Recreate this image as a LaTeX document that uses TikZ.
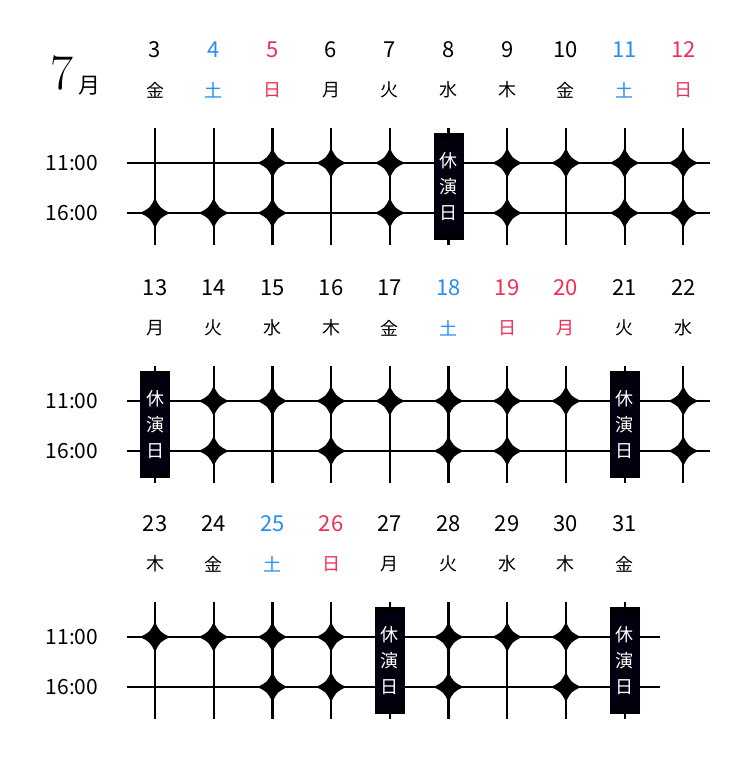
\documentclass[tikz,border=0pt]{standalone}
\usepackage{fontspec}
\newfontfamily\jp{Noto Sans CJK JP}
\begin{document}
\begin{tikzpicture}[x=1pt,y=-1pt,
  num/.style={font=\jp\fontsize{22}{22}\selectfont,inner sep=0pt},
  wd/.style={font=\jp\fontsize{18}{18}\selectfont,inner sep=0pt},
  tm/.style={font=\jp\fontsize{21}{21}\selectfont,inner sep=0pt},
  ln/.style={line width=2.2pt,black},
  rest/.style={fill=black!90!blue!60!black},
  bl/.style={text={rgb,255:red,40;green,140;blue,240}},
  rd/.style={text={rgb,255:red,240;green,45;blue,85}},
  dia/.pic={\fill (0,-15) .. controls (5,-5) .. (15,0) .. controls (5,5) .. (0,15) .. controls (-5,5) .. (-15,0) .. controls (-5,-5) .. (0,-15);}]
\useasboundingbox (0,0) rectangle (750,760);
\node[inner sep=0pt,font=\fontsize{50}{50}\selectfont] (m7) at (62,73) {7};
\node[wd,font=\jp\fontsize{22}{22}\selectfont] (mo) at (89,86) {月};
\newcommand\blk[4]{%
  \node[tm] (a#4) at (72,#1+113) {11:00};
  \node[tm] (b#4) at (72,#1+163) {16:00};
  \coordinate (la#4) at (127,#1+113); \coordinate (ra#4) at (#3,#1+113);
  \coordinate (lb#4) at (127,#1+163); \coordinate (rb#4) at (#3,#1+163);
  \draw[ln] (la#4) -- (ra#4); \draw[ln] (lb#4) -- (rb#4);
  \foreach \c/\n/\w/\s/\p/\q in {#2}{
    \pgfmathsetmacro\xx{155+58.7*\c}
    \node[num,\s] (n\n) at (\xx,#1) {\n};
    \node[wd,\s] (w\n) at (\xx,#1+40) {\w};
    \coordinate (t\n) at (\xx,#1+78); \coordinate (u\n) at (\xx,#1+195);
    \draw[ln] (t\n) -- (u\n);
    \ifnum\p=1 \pic at (\xx,#1+113) {dia};\fi
    \ifnum\q=1 \pic at (\xx,#1+163) {dia};\fi
    \ifnum\p=2
      \fill[black] (\xx-15,#1+83) rectangle (\xx+15,#1+190);
      \fill[rest] (\xx-15,#1+88) rectangle (\xx+15,#1+185);
      \node[wd,text=white,font=\jp\fontsize{18}{18}\selectfont] (r\n a) at (\xx,#1+111) {休};
      \node[wd,text=white,font=\jp\fontsize{18}{18}\selectfont] (r\n b) at (\xx,#1+137) {演};
      \node[wd,text=white,font=\jp\fontsize{18}{18}\selectfont] (r\n c) at (\xx,#1+163) {日};
    \fi
  }}
\blk{50}{0/3/金/black/0/1,1/4/土/bl/0/1,2/5/日/rd/1/1,3/6/月/black/1/0,4/7/火/black/1/1,5/8/水/black/2/0,6/9/木/black/1/1,7/10/金/black/1/0,8/11/土/bl/1/1,9/12/日/rd/1/1}{710}{1}
\blk{288}{0/13/月/black/2/0,1/14/火/black/1/1,2/15/水/black/1/0,3/16/木/black/1/1,4/17/金/black/1/0,5/18/土/bl/1/1,6/19/日/rd/1/1,7/20/月/rd/1/0,8/21/火/black/2/0,9/22/水/black/1/1}{710}{2}
\blk{524}{0/23/木/black/1/0,1/24/金/black/1/0,2/25/土/bl/1/1,3/26/日/rd/1/1,4/27/月/black/2/0,5/28/火/black/1/1,6/29/水/black/1/0,7/30/木/black/1/1,8/31/金/black/2/0}{660}{3}
\end{tikzpicture}
\end{document}
